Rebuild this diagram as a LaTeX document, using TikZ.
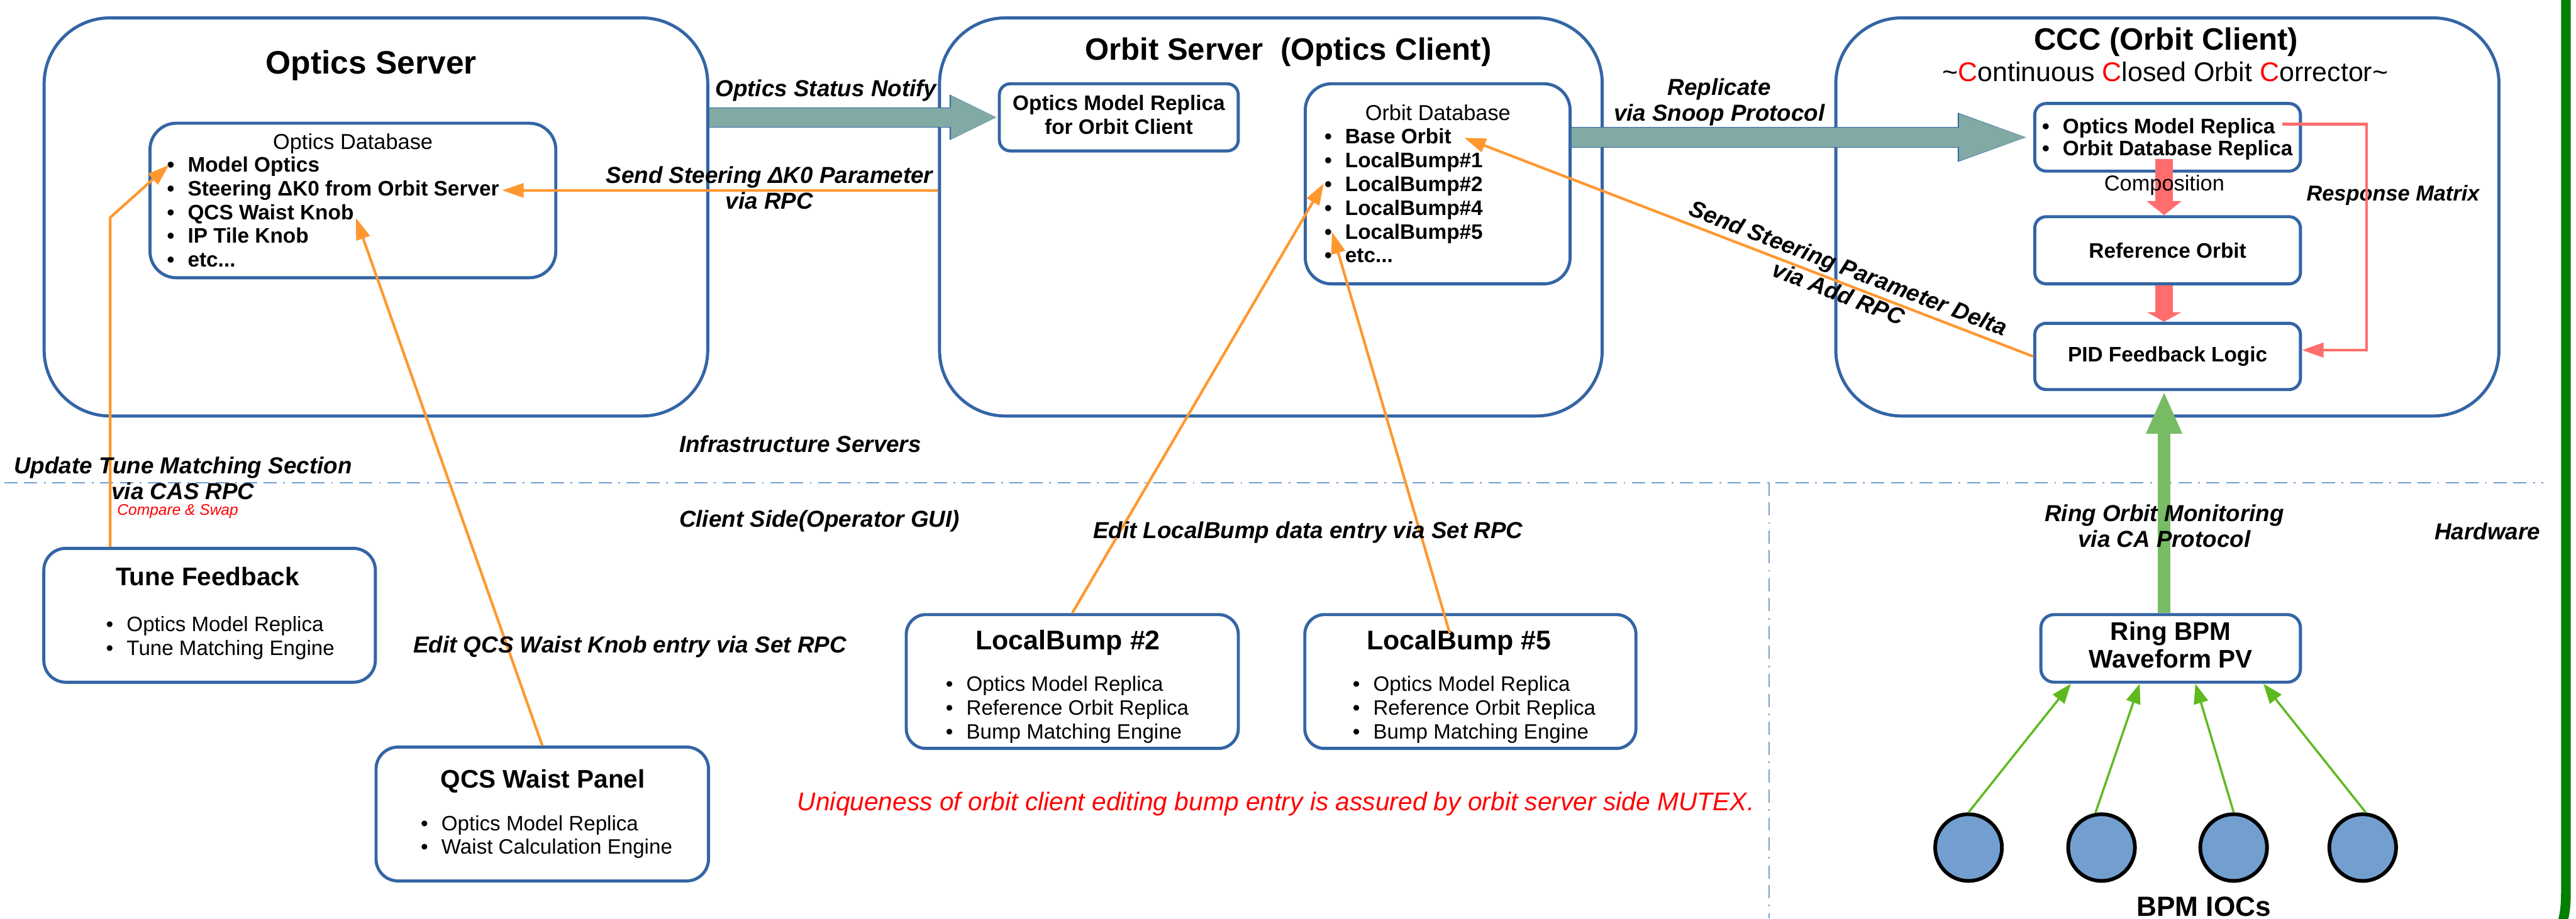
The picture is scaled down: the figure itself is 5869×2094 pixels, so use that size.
\documentclass[tikz,border=0pt]{standalone}
\usepackage{fontspec}
\setmainfont{Liberation Sans}
\usetikzlibrary{arrows.meta,calc}
\definecolor{bblue}{HTML}{3465A4}
\definecolor{tealc}{HTML}{81AAA4}
\definecolor{orng}{HTML}{FF972F}
\definecolor{salm}{HTML}{FF6D6D}
\definecolor{gthick}{HTML}{77BC65}
\definecolor{gline}{HTML}{5EB91E}
\definecolor{iocblue}{HTML}{729FCF}
\definecolor{dgreen}{HTML}{008000}
\newcommand{\fsz}[2]{\fontsize{#1}{#2}\selectfont}
\newcommand{\mlines}[2][c]{\begin{tabular}[t]{@{}#1@{}}#2\end{tabular}}
\newcommand{\bul}{\makebox[0.47cm][l]{\textbullet}}
\tikzset{
  bigbox/.style={draw=bblue, line width=2pt, fill=white, rounded corners=1.5cm, inner sep=0pt},
  box/.style={draw=bblue, line width=2pt, fill=white, inner sep=0pt},
  txt/.style={inner sep=0pt, anchor=base},
  ltxt/.style={inner sep=0pt, anchor=base west},
  lbl/.style={txt, font=\fsz{15}{16.8}\bfseries\itshape},
  bigtitle/.style={txt, font=\fsz{20}{24}\bfseries},
  dbtitle/.style={txt, font=\fsz{14}{16}},
  blist/.style={ltxt, font=\fsz{13.6}{15.4}\bfseries},
  rlist/.style={ltxt, font=\fsz{13.5}{15.4}},
  ctitle/.style={txt, font=\fsz{16.5}{19}\bfseries},
  orarrow/.style={draw=orng, line width=1.7pt, -{Triangle[length=0.49cm,width=0.32cm]}},
  grarrow/.style={draw=gline, line width=1.4pt, -{Triangle[length=0.45cm,width=0.33cm]}},
  dashline/.style={draw=iocblue, line width=0.85pt, dash pattern=on 0.3cm off 0.15cm on 0.3cm off 0.15cm on 0.04cm off 0.15cm},
  ioc/.style={circle, draw=black, line width=2.4pt, fill=iocblue, minimum size=1.52cm, inner sep=0pt},
}
\begin{document}
\begin{tikzpicture}[x=0.01cm, y=-0.01cm]
\useasboundingbox (0,0) rectangle (5869,2094);
\fill[white] (0,0) rectangle (5869,2094);

% separators and frame
\draw[dashline] (10,1100) -- (5794,1100);
\draw[dashline] (4031,1100) -- (4031,2094);
\draw[dgreen, line width=6.3pt] (5846,-20) -- (5846,2030) .. controls (5846,2070) and (5843,2086) .. (5836,2110);

% outer boxes
\node[bigbox, minimum width=15.11cm, minimum height=9.07cm] (os) at (856.5,494.5) {};
\node[bigbox, minimum width=15.09cm, minimum height=9.07cm] (orbs) at (2895.5,494.5) {};
\node[bigbox, minimum width=15.10cm, minimum height=9.07cm] (ccc) at (4938,494.5) {};

\node[txt, font=\fsz{21}{25}\bfseries] (ostitle) at (846,169) {Optics Server};
\node[bigtitle] (orbstitle) at (2935,137) {Orbit Server\ \ (Optics Client)};
\node[bigtitle] (ccctitle) at (4935,114) {CCC (Orbit Client)};
\node[txt, font=\fsz{17.5}{20}] (cccsub) at (4933,185) {\textasciitilde{\color{red}C}ontinuous {\color{red}C}losed Orbit {\color{red}C}orrector\textasciitilde};

% optics database
\node[box, rounded corners=0.6cm, minimum width=9.24cm, minimum height=3.52cm] (odb) at (804,457) {};
\node[dbtitle] (odbt) at (804,341) {Optics Database};
\node[blist] (odbl) at (380,392) {\mlines[l]{\bul Model Optics\\\bul Steering ΔK0 from Orbit Server\\\bul QCS Waist Knob\\\bul IP Tile Knob\\\bul etc...}};

% orbit server inner
\node[box, rounded corners=0.25cm, minimum width=5.44cm, minimum height=1.53cm, font=\fsz{13.6}{15.4}\bfseries] (omr) at (2549,267.5) {\mlines{Optics Model Replica\\for Orbit Client}};
\node[box, rounded corners=0.6cm, minimum width=6.03cm, minimum height=4.56cm] (odb2) at (3275.5,419) {};
\node[dbtitle] (odb2t) at (3276,275) {Orbit Database};
\node[blist] (odb2l) at (3017,328) {\mlines[l]{\bul Base Orbit\\\bul LocalBump\#1\\\bul LocalBump\#2\\\bul LocalBump\#4\\\bul LocalBump\#5\\\bul etc...}};

% CCC inner
\node[box, rounded corners=0.26cm, minimum width=6.05cm, minimum height=1.54cm] (cccr) at (4938.5,313) {};
\node[blist, font=\fsz{13.6}{14.2}\bfseries] (cccrl) at (4652,305) {\mlines[l]{\bul Optics Model Replica\\\bul Orbit Database Replica}};
\node[box, rounded corners=0.26cm, minimum width=6.05cm, minimum height=1.53cm, font=\fsz{13.6}{15.4}\bfseries] (ref) at (4938.5,570.5) {Reference Orbit};
\node[box, rounded corners=0.26cm, minimum width=6.05cm, minimum height=1.51cm, font=\fsz{13.6}{15.4}\bfseries] (pid) at (4938.5,812.5) {PID Feedback Logic};

% client boxes
\node[box, rounded corners=0.5cm, minimum width=7.55cm, minimum height=3.05cm] (tf) at (477.5,1402.5) {};
\node[ctitle] (tft) at (473,1335) {Tune Feedback};
\node[rlist] (tfl) at (241,1440) {\mlines[l]{\bul Optics Model Replica\\\bul Tune Matching Engine}};

\node[box, rounded corners=0.5cm, minimum width=7.57cm, minimum height=3.05cm] (qcs) at (1235.5,1855.5) {};
\node[ctitle] (qcst) at (1237,1796) {QCS Waist Panel};
\node[rlist] (qcsl) at (958,1893) {\mlines[l]{\bul Optics Model Replica\\\bul Waist Calculation Engine}};

\node[box, rounded corners=0.45cm, minimum width=7.56cm, minimum height=3.05cm] (lb2) at (2443,1553.5) {};
\node[txt, font=\fsz{17.5}{20}\bfseries] (lb2t) at (2433,1481) {LocalBump \#2};
\node[rlist] (lb2l) at (2154,1576) {\mlines[l]{\bul Optics Model Replica\\\bul Reference Orbit Replica\\\bul Bump Matching Engine}};

\node[box, rounded corners=0.45cm, minimum width=7.54cm, minimum height=3.05cm] (lb5) at (3350,1553.5) {};
\node[txt, font=\fsz{17.5}{20}\bfseries] (lb5t) at (3324,1481) {LocalBump \#5};
\node[rlist] (lb5l) at (3081,1576) {\mlines[l]{\bul Optics Model Replica\\\bul Reference Orbit Replica\\\bul Bump Matching Engine}};

% hardware
\node[box, rounded corners=0.3cm, minimum width=5.91cm, minimum height=1.54cm, font=\fsz{16.5}{18.2}\bfseries] (bpm) at (4945.5,1478) {\mlines{Ring BPM\\Waveform PV}};
\node[ioc] (ioc1) at (4485,1932) {};
\node[ioc] (ioc2) at (4788,1932) {};
\node[ioc] (ioc3) at (5089,1932) {};
\node[ioc] (ioc4) at (5383,1932) {};
\node[txt, font=\fsz{18}{21}\bfseries] (ioct) at (5021,2089) {BPM IOCs};

% coordinates for free ends
\coordinate (tipModel) at (385,376);
\coordinate (bendTune) at (251,496);
\coordinate (tipSteer) at (1144,434);
\coordinate (tipQCS) at (811,497);
\coordinate (tipBase) at (3336,314);
\coordinate (tipLB2) at (3016,418);
\coordinate (tipLB5) at (3035,529);
\coordinate (lb5Start) at ($(lb5.north)+(-47,46)$);
\coordinate (rmStart) at ($(cccr.east)+(-45,-30)$);
\coordinate (rmTop) at (5392,283);
\coordinate (rmBot) at (5392,798);

% block arrows (thin blue outline underneath, fill on top)
\draw[bblue, line width=12.9pt, -{Triangle[length=1.1cm,width=0.95cm]}] (os.east |- omr.west) -- (omr.west);
\draw[tealc, line width=12.2pt, -{Triangle[length=1.07cm,width=0.9cm]}] (os.east |- omr.west) -- (omr.west);
\draw[bblue, line width=13.2pt, -{Triangle[length=1.72cm,width=0.96cm]}] (odb2.east |- cccr.west) -- (cccr.west);
\draw[tealc, line width=12.5pt, -{Triangle[length=1.69cm,width=0.91cm]}] (odb2.east |- cccr.west) -- (cccr.west);
\draw[salm, line width=11.1pt, -{Triangle[length=0.32cm,width=0.78cm]}] ($(cccr.south)+(-8,-31)$) -- ($(ref.north)+(-8,0)$);
\draw[salm, line width=11.1pt, -{Triangle[length=0.22cm,width=0.78cm]}] ($(ref.south)+(-8,0)$) -- ($(pid.north)+(-8,0)$);
\draw[gthick, line width=8.3pt, -{Triangle[length=0.97cm,width=0.75cm]}] ($(bpm.north)+(-15,0)$) -- ($(pid.south)+(-8,0)$);

% response matrix
\node[txt, font=\fsz{14}{16}\bfseries\itshape] (rmlbl) at (5452,458) {Response Matrix};
\draw[salm, line width=1.7pt, -{Triangle[length=0.49cm,width=0.33cm]}] (rmStart) -- (rmTop) -- (rmBot) -- (pid.east |- rmBot);
\node[txt, font=\fsz{14}{16}] (complbl) at (4931,435) {Composition};

% orange connectors
\draw[orarrow] (tf.north -| bendTune) -- (bendTune) -- (tipModel);
\draw[orarrow] (tipSteer -| orbs.west) -- (tipSteer);
\draw[orarrow] (qcs.north) -- (tipQCS);
\draw[orarrow] (lb2.north) -- (tipLB2);
\draw[orarrow] (lb5Start) -- (tipLB5);
\draw[orarrow] (pid.west) -- node[sloped, pos=0.335, inner sep=0pt, font=\fsz{15}{17.5}\bfseries\itshape] (sspd) {\mlines{Send Steering Parameter Delta\\via Add RPC}} (tipBase);

% green IOC connectors
\draw[grarrow] (ioc1.north) -- ($(bpm.south west)!0.12!(bpm.south east)$);
\draw[grarrow] (ioc2.100) -- ($(bpm.south west)!0.382!(bpm.south east)$);
\draw[grarrow] (ioc3.north) -- ($(bpm.south west)!0.594!(bpm.south east)$);
\draw[grarrow] (ioc4.85) -- ($(bpm.south west)!0.853!(bpm.south east)$);

% labels
\node[lbl] (l1) at (1882,220) {Optics Status Notify};
\node[lbl] (l2) at (1753,417) {\mlines{Send Steering ΔK0 Parameter\\via RPC}};
\node[lbl] (l3) at (3917,217) {\mlines{Replicate\\via Snoop Protocol}};
\node[lbl] (l4) at (417,1080) {\mlines{Update Tune Matching Section\\via CAS RPC}};
\node[txt, font=\fsz{10}{12}\itshape, text=red] (l5) at (405,1174) {Compare \& Swap};
\node[lbl, anchor=base west] (l6) at (1547,1031) {Infrastructure Servers};
\node[lbl, anchor=base west] (l7) at (1547,1202) {Client Side(Operator GUI)};
\node[lbl] (l8) at (1435,1488) {Edit QCS Waist Knob entry via Set RPC};
\node[lbl] (l9) at (2980,1227) {Edit LocalBump data entry via Set RPC};
\node[lbl] (l10) at (5667,1230) {Hardware};
\node[lbl] (l11) at (4931,1188) {\mlines{Ring Orbit Monitoring\\via CA Protocol}};
\node[ltxt, font=\fsz{16.6}{19}\itshape, text=red] (l12) at (1816,1848) {Uniqueness of orbit client editing bump entry is assured by orbit server side MUTEX.};
\end{tikzpicture}
\end{document}
